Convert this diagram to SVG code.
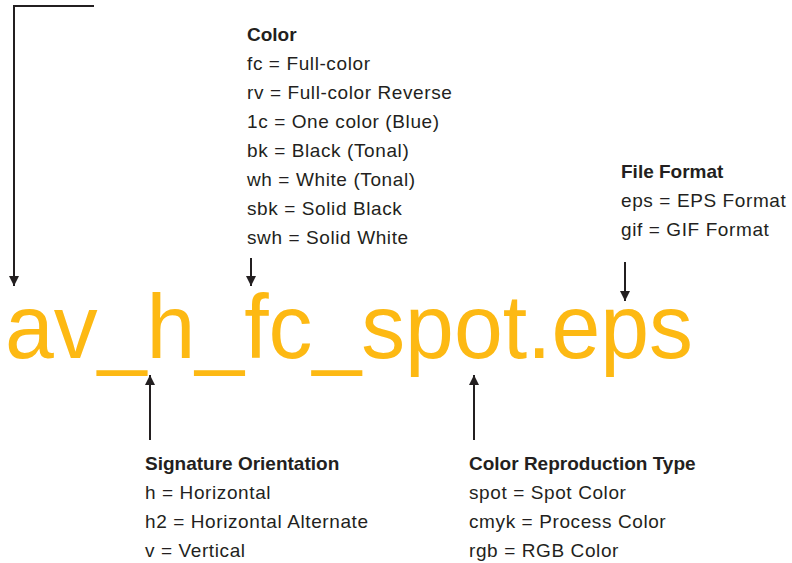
<svg xmlns="http://www.w3.org/2000/svg" width="792" height="563" viewBox="0 0 792 563">
<style>
.t{font-family:"Liberation Sans",Arial,sans-serif;font-size:19px;fill:#231f20;letter-spacing:0.6px}
.b{font-weight:bold;letter-spacing:0}
.big{font-family:"Liberation Sans",Arial,sans-serif;font-size:90px;fill:#fdb913}
.ln{stroke:#231f20;stroke-width:2;fill:none}
</style>
<defs>
<marker id="ah" viewBox="0 0 10 10" refX="10" refY="5" markerWidth="10" markerHeight="10" markerUnits="userSpaceOnUse" orient="auto">
<path d="M0,0 L10,5 L0,10 Z" fill="#231f20"/>
</marker>
</defs>
<rect width="792" height="563" fill="#fff"/>
<g id="filename">
<text class="big" x="5" y="358" textLength="688" lengthAdjust="spacingAndGlyphs">av_h_fc_spot.eps</text>
</g>
<g id="connectors">
<path class="ln" d="M94,6 H14 V286" marker-end="url(#ah)"/>
<path class="ln" d="M251,258 V286" marker-end="url(#ah)"/>
<path class="ln" d="M625,262 V301" marker-end="url(#ah)"/>
<path class="ln" d="M150,440 V375" marker-end="url(#ah)"/>
<path class="ln" d="M474,440 V375" marker-end="url(#ah)"/>
</g>
<g id="color">
<text class="t b" x="247" y="41">Color</text>
<text class="t" x="247" y="70">fc = Full-color</text>
<text class="t" x="247" y="99">rv = Full-color Reverse</text>
<text class="t" x="247" y="128">1c = One color (Blue)</text>
<text class="t" x="247" y="157">bk = Black (Tonal)</text>
<text class="t" x="247" y="186">wh = White (Tonal)</text>
<text class="t" x="247" y="215">sbk = Solid Black</text>
<text class="t" x="247" y="244">swh = Solid White</text>
</g>
<g id="file-format">
<text class="t b" x="621" y="178">File Format</text>
<text class="t" x="621" y="207">eps = EPS Format</text>
<text class="t" x="621" y="236">gif = GIF Format</text>
</g>
<g id="signature-orientation">
<text class="t b" x="145" y="470">Signature Orientation</text>
<text class="t" x="145" y="499">h = Horizontal</text>
<text class="t" x="145" y="528">h2 = Horizontal Alternate</text>
<text class="t" x="145" y="557">v = Vertical</text>
</g>
<g id="color-reproduction">
<text class="t b" x="469" y="470">Color Reproduction Type</text>
<text class="t" x="469" y="499">spot = Spot Color</text>
<text class="t" x="469" y="528">cmyk = Process Color</text>
<text class="t" x="469" y="557">rgb = RGB Color</text>
</g>
</svg>
